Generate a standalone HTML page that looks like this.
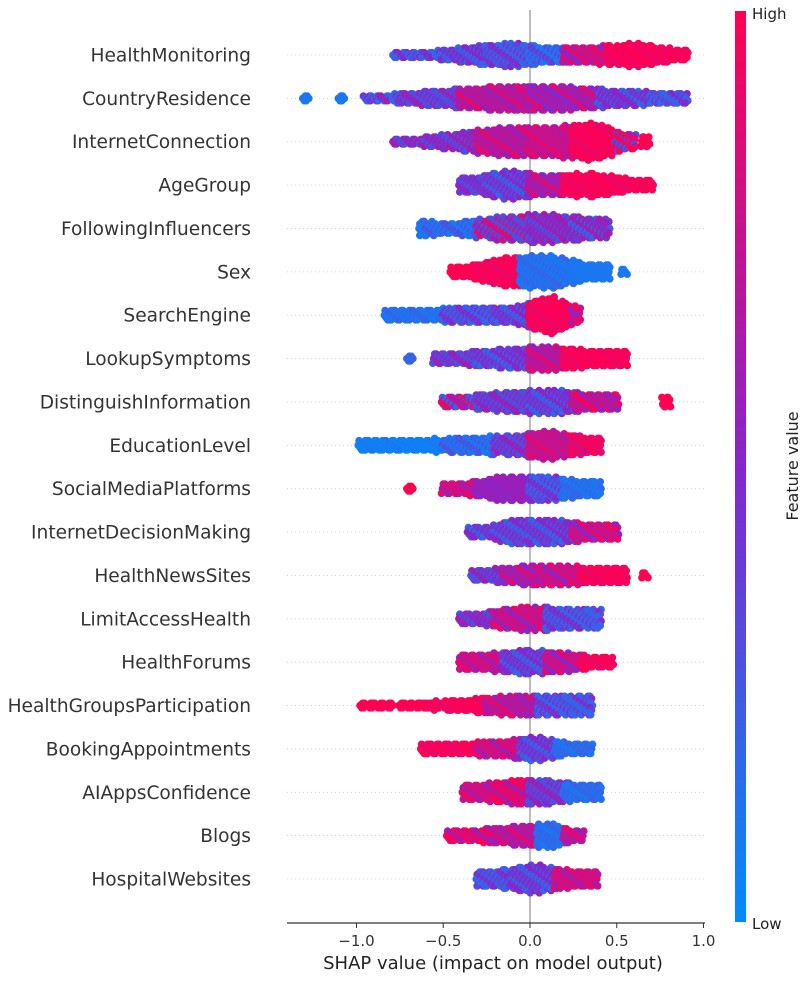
<!DOCTYPE html>
<html><head><meta charset="utf-8">
<style>
html,body{margin:0;padding:0;background:#fff;}
svg text{font-family:"DejaVu Sans","Liberation Sans",sans-serif;}
</style></head>
<body>
<svg id="chart" width="807" height="978" viewBox="0 0 807 978" xmlns="http://www.w3.org/2000/svg">
<defs>
<linearGradient id="cbar" x1="0" y1="1" x2="0" y2="0">
<stop offset="0" stop-color="rgb(0,139,251)"/>
<stop offset="0.5" stop-color="rgb(134,38,203)"/>
<stop offset="1" stop-color="rgb(255,0,82)"/>
</linearGradient>
</defs>
<g id="grid"></g>
<line x1="530" y1="10" x2="530" y2="923" stroke="#999" stroke-width="1.3"/>
<g id="dots"></g>
<g id="labels"></g>
<g id="xaxis">
<line x1="287" y1="923" x2="705" y2="923" stroke="#333" stroke-width="1.2"/>
</g>
<text x="493" y="969" font-size="18" fill="#222" text-anchor="middle">SHAP value (impact on model output)</text>
<rect x="735" y="11" width="11" height="911" fill="url(#cbar)"/>
<text x="752" y="19" font-size="15" fill="#222">High</text>
<text x="752" y="929" font-size="15" fill="#222">Low</text>
<text x="0" y="0" font-size="16" fill="#222" text-anchor="middle" transform="translate(798,466) rotate(-90)">Feature value</text>
</svg>
<script>
const features = ["HealthMonitoring","CountryResidence","InternetConnection","AgeGroup","FollowingInfluencers","Sex","SearchEngine","LookupSymptoms","DistinguishInformation","EducationLevel","SocialMediaPlatforms","InternetDecisionMaking","HealthNewsSites","LimitAccessHealth","HealthForums","HealthGroupsParticipation","BookingAppointments","AIAppsConfidence","Blogs","HospitalWebsites"];
const xTicks = [-1.0,-0.5,0.0,0.5,1.0];
const xTickLabels = ["\u22121.0","\u22120.5","0.0","0.5","1.0"];
// segments per feature: [shapStart, shapEnd, halfDensity, featureValueA, featureValueB]
const seg0 = [[-0.78,-0.5,1,0.2,0.5],[-0.5,-0.25,3,0.5,0.2],[-0.25,0,5,0.2,0.5],[0,0.2,3,0.1,0.4],[0.2,0.45,3,0.9,0.5],[0.45,0.8,5,1,0.9],[0.8,0.9,2,1,0.9]];
const seg1 = [[-1.3,-1.28,1,0.1,0.1],[-1.1,-1.08,1,0.1,0.1],[-0.95,-0.75,1,0.2,0.6],[-0.75,-0.4,3,0.3,0.6],[-0.4,0,5,0.6,0.9],[0,0.4,5,0.5,0.9],[0.4,0.7,3,0.5,0.2],[0.7,0.9,2,0.2,0.5]];
const seg2 = [[-0.78,-0.6,1,0.6,0.3],[-0.6,-0.3,3,0.6,0.3],[-0.3,0,6,0.6,0.9],[0,0.25,6,0.7,0.9],[0.25,0.5,8,1,0.9],[0.5,0.6,3,1,0.3],[0.65,0.68,2,1,1]];
const seg3 = [[-0.4,-0.25,3,0.5,0.3],[-0.25,0,6,0.5,0.2],[0,0.2,4,0.5,0.9],[0.2,0.5,5,1,0.9],[0.5,0.7,2,1,0.9]];
const seg4 = [[-0.63,-0.6,3,0.1,0.1],[-0.6,-0.3,2,0.1,0.3],[-0.3,0,5,0.3,0.9],[0,0.25,6,0.6,0.3],[0.25,0.45,4,0.6,0.2]];
const seg5 = [[-0.45,-0.3,2,1,1],[-0.3,-0.05,6,1,0.9],[-0.05,0.25,7,0.1,0.2],[0.25,0.45,3,0.1,0.1],[0.53,0.55,1,0.1,0.1]];
const seg6 = [[-0.83,-0.5,2,0.1,0.2],[-0.5,-0.2,3,0.2,0.5],[-0.2,0,3,0.5,0.2],[0,0.25,8,1,0.9],[0.25,0.28,3,0.9,0.5]];
const seg7 = [[-0.7,-0.68,1,0.2,0.2],[-0.55,-0.3,2,0.3,0.6],[-0.3,0,4,0.5,0.2],[0,0.2,5,0.6,0.9],[0.2,0.55,3,1,0.9]];
const seg8 = [[-0.5,-0.3,2,0.9,0.2],[-0.3,0,4,0.3,0.6],[0,0.25,5,0.5,0.2],[0.25,0.5,3,0.6,1],[0.77,0.8,2,1,1]];
const seg9 = [[-0.98,-0.5,2,0.05,0.1],[-0.5,-0.2,3,0.1,0.3],[-0.2,0,4,0.3,0.6],[0,0.25,6,0.7,0.9],[0.25,0.4,3,1,0.8]];
const seg10 = [[-0.7,-0.68,1,1,1],[-0.5,-0.3,2,0.9,0.6],[-0.3,0,5,0.6,0.5],[0,0.2,5,0.2,0.5],[0.2,0.4,3,0.1,0.2]];
const seg11 = [[-0.35,-0.2,2,0.5,0.2],[-0.2,0,5,0.5,0.2],[0,0.25,5,0.5,0.2],[0.25,0.5,3,0.9,0.5]];
const seg12 = [[-0.33,-0.15,2,0.3,0.6],[-0.15,0.05,4,0.5,0.9],[0.05,0.3,4,0.9,0.5],[0.3,0.55,3,1,0.9],[0.65,0.67,1,1,1]];
const seg13 = [[-0.4,-0.2,2,0.6,0.3],[-0.2,0.1,5,0.9,0.5],[0.1,0.4,4,0.2,0.5]];
const seg14 = [[-0.4,-0.15,3,0.9,0.6],[-0.15,0.1,5,0.5,0.2],[0.1,0.3,4,0.9,0.5],[0.3,0.47,2,1,0.9]];
const seg15 = [[-0.97,-0.8,1,1,1],[-0.75,-0.6,1,1,1],[-0.6,-0.25,2,1,0.9],[-0.25,0.05,4,0.6,0.9],[0.05,0.35,4,0.2,0.5]];
const seg16 = [[-0.62,-0.3,2,1,0.9],[-0.3,-0.05,3,0.9,0.6],[-0.05,0.15,5,0.5,0.2],[0.15,0.35,2,0.2,0.1]];
const seg17 = [[-0.38,-0.2,3,0.9,0.6],[-0.2,0,5,1,0.6],[0,0.2,5,0.3,0.6],[0.2,0.4,3,0.2,0.1]];
const seg18 = [[-0.47,-0.2,2,1,0.6],[-0.2,0.05,4,0.6,0.9],[0.05,0.2,5,0.2,0.1],[0.2,0.3,2,0.6,0.9]];
const seg19 = [[-0.3,-0.1,3,0.2,0.5],[-0.1,0.15,6,0.5,0.2],[0.15,0.38,3,0.9,0.6]];
const segments = [seg0,seg1,seg2,seg3,seg4,seg5,seg6,seg7,seg8,seg9,seg10,seg11,seg12,seg13,seg14,seg15,seg16,seg17,seg18,seg19];

const NS = "http://www.w3.org/2000/svg";
const xScale = v => 530 + v * 173.5;
const yRow = i => 55 + i * 43.37;
function colorOf(t){
  const lo=[0,139,251], mid=[134,38,203], hi=[255,0,82];
  let a,b,u;
  if(t<0.5){a=lo;b=mid;u=t/0.5;}else{a=mid;b=hi;u=(t-0.5)/0.5;}
  return "rgb("+a.map((c,k)=>Math.round(c+(b[k]-c)*u)).join(",")+")";
}
// smooth density across adjacent segments
function densityAt(segs, xv){
  const mids=segs.map(s=>[(s[0]+s[1])/2,s[2]]);
  if(xv<=mids[0][0]) return mids[0][1];
  for(let q=0;q<mids.length-1;q++){
    if(xv<=mids[q+1][0]){
      if(segs[q+1][0]-segs[q][1]>0.03) return xv<segs[q][1]+0.015?mids[q][1]:mids[q+1][1];
      const u=(xv-mids[q][0])/(mids[q+1][0]-mids[q][0]);
      return mids[q][1]+(mids[q+1][1]-mids[q][1])*u;
    }
  }
  return mids[mids.length-1][1];
}
const grid=document.getElementById("grid"), dots=document.getElementById("dots"), labels=document.getElementById("labels"), xaxis=document.getElementById("xaxis");
features.forEach((f,i)=>{
  const y=yRow(i);
  const gl=document.createElementNS(NS,"line");
  
  
  gl.setAttribute("x1",287);gl.setAttribute("x2",705);gl.setAttribute("y1",y);gl.setAttribute("y2",y);
  gl.setAttribute("stroke","#ccc");gl.setAttribute("stroke-dasharray","1 3");gl.setAttribute("stroke-width","0.8");
  grid.appendChild(gl);
  const t=document.createElementNS(NS,"text");
  
  
  t.setAttribute("x",251);t.setAttribute("y",y+6.5);t.setAttribute("text-anchor","end");
  t.setAttribute("font-size","18.6");t.setAttribute("fill","#333");t.textContent=f;
  labels.appendChild(t);
  const segs=segments[i];
  segs.forEach((s,si)=>{
    const x0=s[0],x1=s[1];
    const steps=Math.max(1,Math.round((x1-x0)/0.02));
    for(let j=0;j<=steps;j++){
      const xv=x0+(x1-x0)*j/steps;
      const n=Math.max(0,Math.round(densityAt(segs,xv)*(0.85+0.15*((j*5+si)%3)/2)));
      for(let k=-n;k<=n;k++){
        const jit=(((k*7+j*3+si)%5+5)%5-2)*0.005;
        const c=document.createElementNS(NS,"circle");
        
        
        c.setAttribute("cx",xScale(xv+jit).toFixed(1));
        c.setAttribute("cy",(y+k*2.3).toFixed(1));
        c.setAttribute("r","3.8");
        const pick=(((j*3+k*5+si*2)%4)+4)%4;
        c.setAttribute("fill",colorOf(pick<2?s[3]:(pick===2?s[4]:(s[3]+s[4])/2)));
        dots.appendChild(c);
      }
    }
  });
});
xTicks.forEach((v,i)=>{
  const tk=document.createElementNS(NS,"line");
  
  
  tk.setAttribute("x1",xScale(v));tk.setAttribute("x2",xScale(v));tk.setAttribute("y1",923);tk.setAttribute("y2",928);
  tk.setAttribute("stroke","#333");
  xaxis.appendChild(tk);
  const tl=document.createElementNS(NS,"text");
  
  
  tl.setAttribute("x",xScale(v));tl.setAttribute("y",946);tl.setAttribute("text-anchor","middle");
  tl.setAttribute("font-size","15");tl.setAttribute("fill","#333");tl.textContent=xTickLabels[i];
  xaxis.appendChild(tl);
});
</script>
</body></html>
